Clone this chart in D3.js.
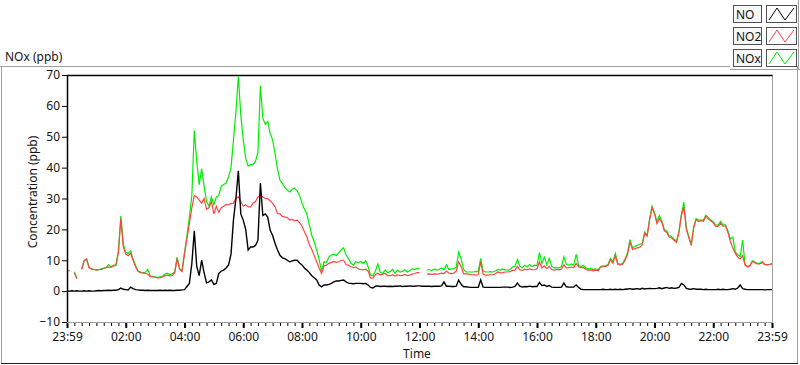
<!doctype html>
<html lang="en">
<head>
<meta charset="UTF-8">
<title>NOx (ppb)</title>
<script src="https://d3js.org/d3.v7.min.js"></script>
<style>
    body { margin: 0; background: #fff; }
    svg { display: block; }
    text { font-family: "Noto Sans", "DejaVu Sans", sans-serif; font-size: 12px; fill: #141414; }
</style>
</head>
<body>
<svg width="800" height="365"></svg>
<script>
// 5-minute samples, 00:00 .. 24:00 (289 values per series)
const NO = [
    0, 0, 0.1, 0, 0.1, 0, 0, 0.1, 0, 0.1, 0, 0,
    0.1, 0.2, 0.1, 0.2, 0.2, 0.3, 0.2, 0.3, 0.3, 0.5, 1.0, 0.6,
    0.5, 0.4, 1.3, 0.8, 0.5, 0.4, 0.3, 0.3, 0.2, 0.3, 0.2, 0.2,
    0.2, 0.2, 0.3, 0.2, 0.3, 0.2, 0.3, 0.2, 0.2, 0.3, 0.3, 0.4,
    0.5, 1.5, 2.5, 9, 19.5, 8, 5, 10, 6, 2.7, 3, 3.6,
    2.2, 2.5, 5.7, 6.5, 6.8, 7.5, 8.5, 12, 23, 30, 39, 25,
    23, 20, 13.3, 14.3, 14.3, 14.8, 16.5, 35, 24.5, 25, 24, 19.7,
    18, 15.4, 13.3, 11.6, 10.8, 10.5, 10, 9.5, 9.8, 10, 10, 9.1,
    8.5, 7.5, 6.8, 6, 5, 4.3, 3.6, 2, 1.4, 2, 2, 2.2,
    2.5, 3.0, 3.3, 3.3, 3.5, 3.6, 3.0, 2.6, 2.5, 2.4, 2.5, 2.5,
    2.5, 2.4, 2.5, 2.0, 1.2, 1.0, 1.6, 1.7, 1.5, 1.6, 1.6, 1.5,
    1.6, 1.5, 1.6, 1.6, 1.7, 1.5, 1.6, 1.6, 1.7, 1.6, 1.6, 1.7,
    1.7, 1.6, 1.6, 1.6, 1.6, 1.5, 1.6, 1.6, 1.6, 1.7, 3.0, 1.6,
    1.6, 1.5, 1.5, 1.6, 3.6, 2.2, 1.4, 1.4, 1.3, 1.2, 1.2, 1.2,
    1.2, 3.6, 1.3, 1.2, 1.2, 1.2, 1.2, 1.2, 1.2, 1.2, 1.3, 1.3,
    1.3, 1.2, 1.3, 1.5, 2.6, 1.6, 1.3, 1.5, 1.4, 1.6, 1.4, 1.5,
    1.5, 2.8, 1.8, 2.0, 1.5, 1.8, 1.3, 1.2, 1.2, 1.2, 1.3, 2.6,
    1.4, 1.3, 1.3, 1.3, 2.0, 1.2, 0.6, 0.5, 0.5, 0.5, 0.5, 0.5,
    0.5, 0.5, 0.5, 0.6, 0.5, 0.5, 0.6, 0.5, 0.6, 0.5, 0.6, 0.5,
    0.6, 0.7, 0.8, 0.6, 0.7, 0.8, 0.6, 0.9, 0.7, 0.8, 0.9, 0.8,
    0.8, 0.9, 1.1, 0.8, 1.0, 1.2, 0.9, 1.1, 0.9, 1.0, 1.2, 2.5,
    2.0, 0.9, 0.7, 0.6, 0.8, 0.6, 0.6, 0.6, 0.5, 0.6, 0.5, 0.5,
    0.5, 0.5, 0.6, 0.5, 0.6, 0.5, 0.5, 0.6, 0.8, 0.6, 1.0, 2.0,
    0.8, 0.6, 0.5, 0.5, 0.5, 0.5, 0.5, 0.5, 0.5, 0.4, 0.5, 0.5, 0.5
];
const NO2 = [
    6.4, 6.7, null, 6.0, 4.0, null, 7.0, 9.8, 10.4, 7.6, 7.1, 7.0,
    6.8, 7.0, 7.0, 7.4, 7.6, 7.8, 7.7, 8.2, 8.3, 12.5, 23.5, 14.5,
    12.0, 11.5, 12.3, 10.0, 8.0, 6.4, 6.0, 5.8, 5.8, 5.5, 4.7, 4.6,
    4.5, 4.3, 4.4, 4.6, 5.0, 5.2, 4.9, 5.1, 5.9, 10.5, 7.0, 6.3,
    12, 17, 22, 27, 31, 30.5, 29.5, 28.5, 30, 26.5, 27, 29,
    25, 27.5, 25.5, 27, 27.5, 28, 28, 28.4, 28.5, 30, 30.5, 29,
    27.5, 28, 27.3, 27.3, 28.5, 29, 30.5, 31, 30.5, 30, 30, 29.2,
    28.5, 27.3, 25.1, 25, 24.2, 24, 23.8, 23, 23.2, 22.8, 23, 22.2,
    21, 19.2, 17.6, 15, 13.5, 11.5, 9.5, 7.5, 5.7, 8.2, 8.4, 9.0,
    9.3, 9.6, 9.3, 9.5, 10.0, 10.0, 8.6, 8.4, 7.9, 7.6, 7.8, 7.2,
    7.0, 6.9, 7.1, 6.5, 4.3, 4.2, 5.4, 5.7, 5.3, 5.5, 5.7, 5.0,
    5.0, 5.3, 4.9, 5.3, 5.0, 5.1, 5.4, 5.0, 5.2, 5.5, 5.7, 6.0,
    6.0, null, null, 5.5, 5.6, 5.4, 5.6, 5.5, 5.6, 5.8, 5.7, 6.5,
    5.8, 5.7, 5.8, 6.5, 9.5, 8.0, 5.6, 5.6, 5.5, 5.3, 5.3, 5.2,
    5.3, 9.5, 5.5, 5.2, 5.2, 5.3, 5.3, 5.6, 6.2, 5.9, 6.0, 6.2,
    6.2, 6.3, 6.7, 6.8, 8.0, 6.9, 6.7, 7.1, 6.9, 7.2, 6.9, 7.0,
    7.2, 9.5, 7.5, 8.2, 7.3, 8.0, 7.0, 6.8, 7.0, 6.9, 7.2, 8.5,
    7.5, 7.6, 7.8, 7.6, 9.0, 7.8, 7.6, 7.7, 7.0, 6.8, 6.9, 6.6,
    6.8, 6.6, 7.8, 7.9, 8.0, 8.4, 10.2, 9.0, 11.5, 8.6, 8.5, 8.7,
    10.0, 12.0, 16.0, 13.5, 13.8, 14.0, 14.2, 15.0, 18.8, 17.8, 23.0, 27.0,
    25.0, 21.8, 23.5, 22.3, 19.5, 19.0, 17.5, 17.2, 16.5, 15.8, 19.0, 24.5,
    27.3, 20.0, 17.4, 14.8, 20.5, 23.2, 22.5, 22.8, 22.6, 24.3, 23.3, 22.7,
    22.2, 21.0, 21.0, 22.0, 21.0, 21.2, 19.0, 16.0, 14.0, 12.3, 11.0, 10.4,
    11.5, 8.4, 7.8, 8.2, 9.6, 9.2, 8.8, 8.8, 9.3, 8.6, 8.5, 8.6, 8.8
];
const NOx = [
    6.4, 6.8, null, 6.3, 4.2, null, 7.1, 9.9, 10.5, 7.7, 7.2, 7.0,
    6.9, 6.9, 7.2, 7.5, 7.7, 8.5, 7.9, 8.4, 8.6, 13, 24.3, 15,
    12.6, 12.2, 13.0, 10.3, 8.3, 6.6, 6.2, 6.0, 6.1, 7.0, 4.9, 4.8,
    4.6, 4.4, 4.6, 4.8, 5.5, 5.8, 5.3, 5.6, 6.2, 11.0, 7.3, 6.6,
    12.5, 18, 24, 31, 52, 42, 34.5, 39.7, 34, 29, 27.5, 30.5,
    28, 30.5, 31, 34, 34.5, 35, 37, 40, 49, 58, 69.5, 57,
    49, 43, 40.5, 41, 41, 42, 45, 66.5, 56, 54, 55, 51,
    49, 44.5, 39.5, 36, 34.8, 33.5, 32.7, 32.1, 33, 33.3, 32.5, 31,
    28.5, 26.5, 25, 21.5, 18, 16, 13.3, 10.2, 6.5, 9.5, 9.3, 11,
    11.7, 12.0, 11.5, 12.5, 13.3, 14.0, 11.7, 10.6, 9.0, 8.4, 9.5, 9.2,
    9.6, 9.0, 9.8, 7.9, 5.2, 5.0, 6.5, 8.8, 6.0, 5.8, 6.8, 6.0,
    6.3, 7.0, 5.8, 6.8, 6.2, 6.4, 6.9, 6.2, 6.6, 7.3, 7.0, 7.3,
    7.3, null, null, 6.8, 7.0, 6.6, 7.2, 6.8, 7.0, 7.5, 6.9, 8.5,
    7.0, 7.2, 7.2, 7.8, 12.7, 10.5, 7.0, 6.2, 6.2, 6.2, 6.2, 6.4,
    6.3, 10.6, 6.5, 6.2, 6.2, 6.3, 6.2, 6.5, 7.0, 6.8, 7.2, 6.9,
    6.8, 7.0, 7.8, 8.0, 10.2, 8.0, 7.6, 8.4, 7.8, 8.6, 8.0, 8.4,
    8.3, 12.5, 9.0, 11.0, 8.5, 10.6, 8.0, 7.5, 7.6, 7.5, 8.0, 11.1,
    8.6, 8.4, 8.8, 8.4, 11.9, 8.3, 8.0, 8.3, 7.5, 7.2, 7.3, 7.0,
    7.2, 7.0, 8.0, 8.2, 8.2, 8.6, 10.6, 9.5, 12.2, 9.0, 8.7, 9.0,
    10.5, 12.5, 16.7, 14.0, 14.5, 14.8, 15.2, 15.4, 19.2, 18.1, 23.5, 27.5,
    25.5, 22.5, 24.5, 22.8, 20.0, 19.5, 18.0, 17.6, 16.8, 16.2, 19.5, 25.0,
    28.8, 20.5, 17.8, 15.0, 20.8, 23.5, 23.0, 23.0, 23.0, 24.6, 23.8, 23.0,
    22.5, 21.4, 21.4, 22.6, 21.5, 21.5, 19.5, 16.8, 17.5, 12.7, 11.8, 11.2,
    16.5, 8.6, 8.0, 8.4, 9.8, 9.4, 9.0, 9.0, 9.6, 8.7, 8.6, 8.7, 8.9
];
const minutes = d3.range(0, 1441, 5);

const xTickMinutes = [0, 120, 240, 360, 480, 600, 720, 840, 960, 1080, 1200, 1320, 1440];
const xTickLabels = ["23:59", "02:00", "04:00", "06:00", "08:00", "10:00", "12:00",
                     "14:00", "16:00", "18:00", "20:00", "22:00", "23:59"];
const yTicks = [-10, 0, 10, 20, 30, 40, 50, 60, 70];

const seriesNames = ["NO", "NO2", "NOx"];
const seriesColors = ["#000000", "#ff4444", "#00ee00"];
const seriesData = [NO, NO2, NOx];

const svg = d3.select("svg");
const plot = { left: 67, top: 75, right: 772, bottom: 322 };

// outer frame
svg.append("line").attr("x1", 0).attr("x2", 730).attr("y1", 66.5).attr("y2", 66.5)
    .attr("stroke", "#a0a0a0");
svg.append("line").attr("x1", 1.5).attr("x2", 1.5).attr("y1", 66).attr("y2", 363)
    .attr("stroke", "#a0a0a0");
svg.append("line").attr("x1", 797.5).attr("x2", 797.5).attr("y1", 66).attr("y2", 363)
    .attr("stroke", "#a0a0a0");
svg.append("line").attr("x1", 1).attr("x2", 798).attr("y1", 363.5).attr("y2", 363.5)
    .attr("stroke", "#202020");

svg.append("text").attr("x", 5).attr("y", 61).text("NOx (ppb)");

// scales
const x = d3.scaleLinear().domain([0, 1440]).range([plot.left, plot.right]);
const y = d3.scaleLinear().domain([-10, 70]).range([plot.bottom, plot.top]);

// plot border
svg.append("rect")
    .attr("x", plot.left + 0.5).attr("y", plot.top + 0.5)
    .attr("width", plot.right - plot.left).attr("height", plot.bottom - plot.top)
    .attr("fill", "#fff").attr("stroke", "#a0a0a0");
svg.append("path")
    .attr("d", `M${plot.left + 0.5},${plot.bottom}V${plot.top + 0.5}H${plot.right + 0.5}`)
    .attr("fill", "none").attr("stroke", "#000").attr("stroke-width", 1.5);

// y axis
const yAxis = svg.append("g").attr("transform", `translate(${plot.left},0)`)
    .call(d3.axisLeft(y).tickValues(yTicks).tickSize(5).tickPadding(2).tickFormat(d3.format("d")));
yAxis.select(".domain").remove();
yAxis.selectAll("line").attr("stroke", "#000");
yAxis.selectAll("text").style("font-size", "12px").style("fill", "#141414")
    .style("font-family", "\"Noto Sans\", sans-serif");

// x axis: minor ticks every 15 min, major every 2 h
const xMinor = svg.append("g").attr("transform", `translate(0,${plot.bottom + 1})`)
    .call(d3.axisBottom(x).tickValues(d3.range(0, 1441, 15)).tickSize(3).tickFormat(""));
xMinor.select(".domain").remove();
xMinor.selectAll("line").attr("stroke", "#000");

const xAxis = svg.append("g").attr("transform", `translate(0,${plot.bottom + 1})`)
    .call(d3.axisBottom(x).tickValues(xTickMinutes).tickSize(5).tickPadding(4)
        .tickFormat((d, i) => xTickLabels[i]));
xAxis.select(".domain").remove();
xAxis.selectAll("line").attr("stroke", "#000").attr("stroke-width", 2);
xAxis.selectAll("text").style("font-size", "12px").style("fill", "#141414")
    .style("font-family", "\"Noto Sans\", sans-serif");

svg.append("text").attr("x", 417).attr("y", 358).attr("text-anchor", "middle").text("Time");
svg.append("text")
    .attr("transform", "translate(37,192) rotate(-90)")
    .attr("text-anchor", "middle").text("Concentration (ppb)");

// lines
svg.append("clipPath").attr("id", "clip").append("rect")
    .attr("x", plot.left + 1).attr("y", plot.top + 1)
    .attr("width", plot.right - plot.left - 1).attr("height", plot.bottom - plot.top - 1);

const line = d3.line()
    .defined(d => d[1] != null)
    .x(d => x(d[0]))
    .y(d => y(d[1]));

const lines = svg.append("g").attr("clip-path", "url(#clip)");
[2, 1, 0].forEach(k => {
    lines.append("path")
        .datum(minutes.map((m, i) => [m, seriesData[k][i]]))
        .attr("d", line)
        .attr("fill", "none")
        .attr("stroke", seriesColors[k])
        .attr("stroke-width", k === 0 ? 1.4 : 1.2)
        .attr("stroke-linejoin", "miter");
});

// legend
const legend = svg.append("g");
legend.append("line").attr("x1", 730).attr("x2", 800).attr("y1", 69.5).attr("y2", 69.5)
    .attr("stroke", "#a0a0a0");
legend.append("line").attr("x1", 798.5).attr("x2", 798.5).attr("y1", 0).attr("y2", 70)
    .attr("stroke", "#a0a0a0");
seriesNames.forEach((name, i) => {
    const g = legend.append("g").attr("transform", `translate(733,${5 + i * 22})`);
    g.append("rect").attr("x", 0.5).attr("y", 0.5).attr("width", 28).attr("height", 17)
        .attr("fill", "#f7f7f7").attr("stroke", "#505050");
    g.append("text").attr("x", 3).attr("y", 14).text(name);
    g.append("rect").attr("x", 33.5).attr("y", 0.5).attr("width", 30).attr("height", 17)
        .attr("fill", "#fff").attr("stroke", "#505050");
    g.append("path")
        .attr("d", "M36,15L44,3L52,15L61,3")
        .attr("fill", "none").attr("stroke", seriesColors[i]).attr("stroke-width", 1);
});
</script>
</body>
</html>
